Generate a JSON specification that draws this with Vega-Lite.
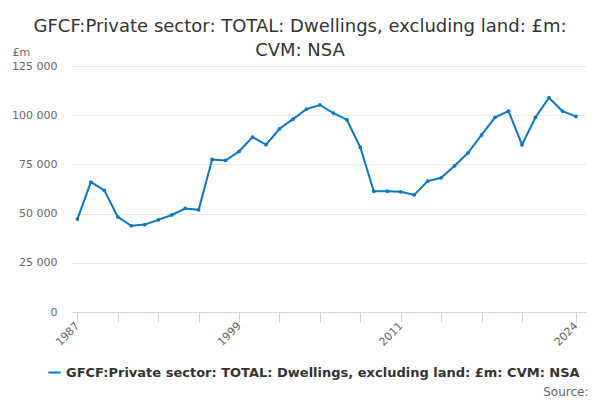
{
  "$schema": "https://vega.github.io/schema/vega-lite/v6.json",
  "autosize": "none",
  "width": 514,
  "height": 246,
  "padding": {"left": 72, "top": 66, "right": 14, "bottom": 88},
  "background": "white",
  "config": {
    "font": "DejaVu Sans",
    "view": {"stroke": null}
  },
  "title": {
    "text": ["GFCF:Private sector: TOTAL: Dwellings, excluding land: £m:", "CVM: NSA"],
    "fontSize": 18,
    "fontWeight": "normal",
    "color": "#333333",
    "lineHeight": 24,
    "anchor": "middle",
    "dx": -29,
    "offset": 22,
    "dy": 36
  },
  "data": {
    "values": [
      {"year": 1987, "value": 47200},
      {"year": 1988, "value": 66000},
      {"year": 1989, "value": 61800},
      {"year": 1990, "value": 48300},
      {"year": 1991, "value": 43800},
      {"year": 1992, "value": 44400},
      {"year": 1993, "value": 46800},
      {"year": 1994, "value": 49300},
      {"year": 1995, "value": 52600},
      {"year": 1996, "value": 51900},
      {"year": 1997, "value": 77500},
      {"year": 1998, "value": 77000},
      {"year": 1999, "value": 81600},
      {"year": 2000, "value": 88900},
      {"year": 2001, "value": 85000},
      {"year": 2002, "value": 93100},
      {"year": 2003, "value": 98000},
      {"year": 2004, "value": 103100},
      {"year": 2005, "value": 105200},
      {"year": 2006, "value": 101100},
      {"year": 2007, "value": 97700},
      {"year": 2008, "value": 83600},
      {"year": 2009, "value": 61300},
      {"year": 2010, "value": 61400},
      {"year": 2011, "value": 61100},
      {"year": 2012, "value": 59500},
      {"year": 2013, "value": 66500},
      {"year": 2014, "value": 68200},
      {"year": 2015, "value": 74300},
      {"year": 2016, "value": 80900},
      {"year": 2017, "value": 90000},
      {"year": 2018, "value": 98900},
      {"year": 2019, "value": 102100},
      {"year": 2020, "value": 85000},
      {"year": 2021, "value": 98900},
      {"year": 2022, "value": 108900},
      {"year": 2023, "value": 102100},
      {"year": 2024, "value": 99400}
    ]
  },
  "mark": {
    "type": "line",
    "strokeWidth": 2,
    "point": {"size": 14, "filled": true}
  },
  "encoding": {
    "x": {
      "field": "year",
      "type": "quantitative",
      "scale": {"domain": [1986.6, 2024.75], "nice": false, "zero": false},
      "axis": {
        "values": [1987, 1990, 1993, 1996, 1999, 2002, 2005, 2008, 2011, 2014, 2017, 2020, 2024],
        "labelExpr": "indexof([1987, 1999, 2011, 2024], datum.value) >= 0 ? datum.value + '' : ''",
        "labelAngle": -45,
        "labelAlign": "right",
        "labelBaseline": "middle",
        "labelFontSize": 11,
        "labelColor": "#666666",
        "labelPadding": 2,
        "labelFlush": false,
        "labelOverlap": false,
        "grid": false,
        "domainColor": "#ccd6eb",
        "tickColor": "#ccd6eb",
        "tickSize": 10,
        "title": "Source:",
        "titleFontSize": 12,
        "titleFontWeight": "normal",
        "titleColor": "#666666",
        "titleAlign": "right",
        "titleBaseline": "bottom",
        "titleX": 516,
        "titleY": 86
      }
    },
    "y": {
      "field": "value",
      "type": "quantitative",
      "scale": {"domain": [0, 125000], "nice": false},
      "axis": {
        "values": [0, 25000, 50000, 75000, 100000, 125000],
        "labelExpr": "replace(format(datum.value, ','), ',', ' ')",
        "labelFontSize": 11,
        "labelColor": "#666666",
        "labelPadding": 15,
        "ticks": false,
        "domain": false,
        "gridColor": "#e6e6e6",
        "title": "£m",
        "titleAngle": 0,
        "titleAlign": "left",
        "titleBaseline": "middle",
        "titleX": -60,
        "titleY": -14,
        "titleFontSize": 11,
        "titleFontWeight": "normal",
        "titleColor": "#666666"
      }
    },
    "color": {
      "datum": "GFCF:Private sector: TOTAL: Dwellings, excluding land: £m: CVM: NSA",
      "type": "nominal",
      "scale": {"range": ["#0a78c2"]},
      "legend": {
        "title": null,
        "orient": "none",
        "legendX": -25,
        "legendY": 299,
        "symbolType": "stroke",
        "symbolStrokeWidth": 2,
        "symbolSize": 150,
        "labelFontSize": 13,
        "labelFontWeight": "bold",
        "labelColor": "#333333",
        "labelLimit": 600
      }
    }
  }
}
